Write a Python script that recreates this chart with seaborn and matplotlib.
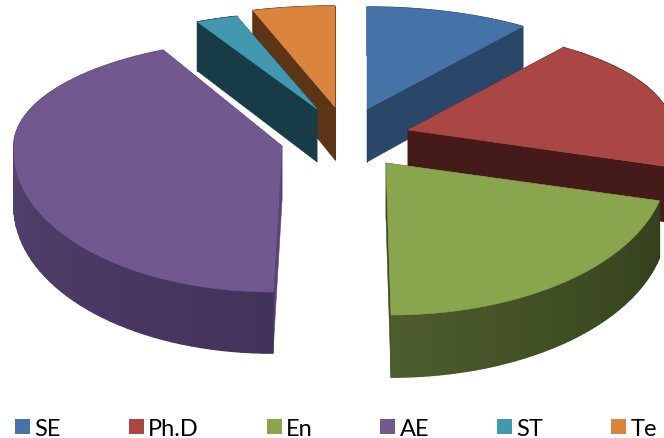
import numpy as np
import matplotlib
matplotlib.use("Agg")
import matplotlib.pyplot as plt
from matplotlib.patches import Patch, Polygon
import seaborn as sns

# Share of each group, in percent
categories = ["SE", "Ph.D", "En", "AE", "ST", "Te"]
shares = [10, 19, 21, 42.7, 2.5, 4.8]

top_colors = ["#4572A7", "#AA4643", "#89A54E", "#71588F", "#4198AF", "#DB843D"]
# Rim shade at the start and at the end of each slice's sweep
wall_shades = [
    ("#2A4669", "#2A4669"),
    ("#451B19", "#451B19"),
    ("#33401C", "#4D5C2C"),
    ("#43325A", "#5E4A7C"),
    ("#173B47", "#173B47"),
    ("#5C3516", "#5C3516"),
]
cut_shades = ["#2A4669", "#451B19", "#3F4D22", "#5A4476", "#173B47", "#5C3516"]

# Where each exploded slice has its tip, and how far its rim reaches
tips_x = [367, 408, 386, 282, 317, 335]
tips_y = [110, 131, 164, 147, 110, 108]
reach_x = [265, 264, 281, 268, 270, 276]
reach_back = [102, 102, 150, 107, 97, 101]
reach_front = [145, 145, 152, 146, 145, 145]
# Sideways drift of the near rim, from the perspective of the view
lean = [0, 0, 5, -9, 0, 0]

# Back slices are painted first so the nearer ones overlap them
paint_order = [5, 0, 1, 4, 3, 2]


def thickness(y):
    """Wall height grows towards the viewer."""
    return 48 + 0.045 * np.asarray(y, dtype=float)


def slice_rim(i, start, stop, n=70):
    theta = np.radians(np.linspace(start, stop, n))
    depth = -np.cos(theta)
    span = np.where(depth > 0, reach_front[i], reach_back[i])
    drift = lean[i] * np.clip(depth, 0, None)
    return tips_x[i] + reach_x[i] * np.sin(theta) + drift, tips_y[i] + span * depth


sns.set_theme(style="white")
plt.rcParams["font.family"] = ["Lato", "DejaVu Sans"]

fig = plt.figure(figsize=(6.64, 4.39), dpi=100, facecolor="white")
ax = fig.add_axes([0, 0, 1, 1])
ax.set_xlim(0, 664)
ax.set_ylim(439, 0)
sns.despine(ax=ax, left=True, bottom=True)
ax.set_xticks([])
ax.set_yticks([])

edges = np.concatenate([[0], np.cumsum(shares)]) * 360.0 / sum(shares)

for i in paint_order:
    rim_x, rim_y = slice_rim(i, edges[i], edges[i + 1])
    tip = (tips_x[i], tips_y[i])
    tip_low = (tips_x[i], tips_y[i] + thickness(tips_y[i]))
    low_y = rim_y + thickness(rim_y)

    # Flat faces exposed by the explosion
    for end in (0, -1):
        face = [tip, (rim_x[end], rim_y[end]), (rim_x[end], low_y[end]), tip_low]
        ax.add_patch(Polygon(face, closed=True, fc=cut_shades[i], ec=cut_shades[i], lw=0.4))

    # Curved outer wall, shaded strip by strip
    strips = sns.blend_palette(list(wall_shades[i]), n_colors=len(rim_x) - 1)
    for k, shade in enumerate(strips):
        quad = [(rim_x[k], rim_y[k]), (rim_x[k + 1], rim_y[k + 1]),
                (rim_x[k + 1], low_y[k + 1]), (rim_x[k], low_y[k])]
        ax.add_patch(Polygon(quad, closed=True, fc=shade, ec=shade, lw=1.0))

    # Top face
    outline = np.column_stack([np.r_[tips_x[i], rim_x], np.r_[tips_y[i], rim_y]])
    ax.add_patch(Polygon(outline, closed=True, fc=top_colors[i], ec=top_colors[i], lw=0.4))

handles = [Patch(fc=c, ec="none", label=name) for c, name in zip(top_colors, categories)]
ax.legend(
    handles=handles, ncol=6, loc="lower left", bbox_to_anchor=(15 / 664, -0.002),
    frameon=False, fontsize=17, columnspacing=2.87, handlelength=0.64, handleheight=0.64,
    handletextpad=0.18, borderpad=0, borderaxespad=0, labelcolor="black",
)

fig.savefig("out.png", dpi=100, facecolor="white")
